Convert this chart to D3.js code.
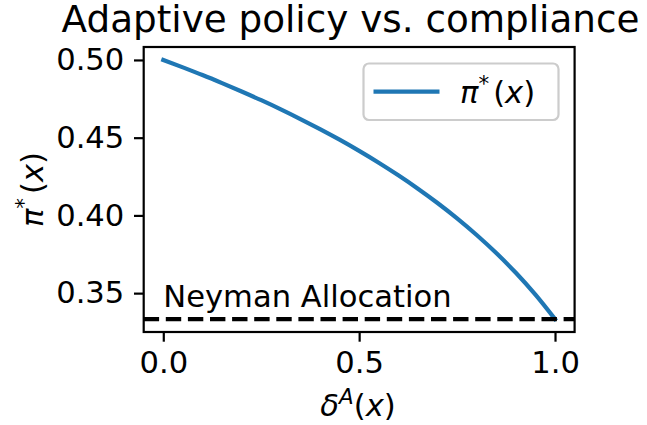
<!DOCTYPE html>
<html lang="en">
<head>
<meta charset="utf-8">
<title>Adaptive policy vs. compliance</title>
<script src="https://d3js.org/d3.v7.min.js"></script>
<style>
    body{margin:0;background:#fff;}
    svg text{font-family:"DejaVu Sans",sans-serif;fill:#000;}
    .axis path{display:none;}
    .axis line{stroke:#000;stroke-width:2.2px;}
    .axis text{font-size:30.6px;font-family:"DejaVu Sans",sans-serif;}
</style>
</head>
<body>
<script>
    // values
    const delta = [0, 0.05, 0.1, 0.15, 0.2, 0.25, 0.3, 0.35, 0.4, 0.45, 0.5,
                   0.55, 0.6, 0.65, 0.7, 0.75, 0.8, 0.85, 0.9, 0.95, 1.0];
    const piStar = [0.5000, 0.4952, 0.4903, 0.4851, 0.4797, 0.4741, 0.4682, 0.4620, 0.4555, 0.4487, 0.4415,
                    0.4339, 0.4258, 0.4172, 0.4080, 0.3981, 0.3874, 0.3758, 0.3631, 0.3490, 0.3333];
    const neyman = 0.3333;
    const xTicks = [0, 0.5, 1.0];
    const yTicks = [0.35, 0.40, 0.45, 0.50];

    const W = 647, H = 425;
    const axL = 143.7, axR = 574.6, axT = 47, axB = 332;
    const fs = 30.6;

    const svg = d3.select("body").append("svg")
        .attr("width", W).attr("height", H);

    const x = d3.scaleLinear().domain([-0.05, 1.05]).range([axL, axR]);
    const y = d3.scaleLinear().domain([0.325, 0.50833]).range([axB, axT]);

    // curve
    const line = d3.line()
        .x((d, i) => x(delta[i]))
        .y(d => y(d))
        .curve(d3.curveMonotoneX);
    svg.append("path")
        .datum(piStar)
        .attr("d", line)
        .attr("fill", "none")
        .attr("stroke", "#1f77b4")
        .attr("stroke-width", 4.2)
        .attr("stroke-linecap", "square");

    // neyman reference line
    svg.append("line")
        .attr("x1", axL).attr("x2", axR)
        .attr("y1", y(neyman)).attr("y2", y(neyman))
        .attr("stroke", "#000")
        .attr("stroke-width", 4.2)
        .attr("stroke-dasharray", "15.4,6.7");

    svg.append("text")
        .attr("x", x(0)).attr("y", y(0.341))
        .attr("font-size", fs)
        .text("Neyman Allocation");

    // spines
    svg.append("rect")
        .attr("x", axL).attr("y", axT)
        .attr("width", axR - axL).attr("height", axB - axT)
        .attr("fill", "none")
        .attr("stroke", "#000")
        .attr("stroke-width", 2.2);

    // axes
    svg.append("g")
        .attr("class", "axis")
        .attr("transform", "translate(0," + axB + ")")
        .call(d3.axisBottom(x).tickValues(xTicks).tickFormat(d3.format(".1f"))
            .tickSize(9.7).tickPadding(9.7));
    svg.append("g")
        .attr("class", "axis")
        .attr("transform", "translate(" + axL + ",0)")
        .call(d3.axisLeft(y).tickValues(yTicks).tickFormat(d3.format(".2f"))
            .tickSize(9.7).tickPadding(9.7));

    // title
    svg.append("text")
        .attr("x", 350.5).attr("y", 32)
        .attr("text-anchor", "middle")
        .attr("font-size", 37.3)
        .text("Adaptive policy vs. compliance");

    // x label: delta^A(x)
    const xl = svg.append("text")
        .attr("x", 358).attr("y", 416)
        .attr("text-anchor", "middle")
        .attr("font-size", fs);
    xl.append("tspan").attr("font-style", "italic").text("δ");
    xl.append("tspan").attr("font-style", "italic").attr("font-size", fs * 0.7).attr("dy", -12).text("A");
    xl.append("tspan").attr("dy", 12).text("(");
    xl.append("tspan").attr("font-style", "italic").text("x");
    xl.append("tspan").text(")");

    // y label: pi*(x)
    function piLabel(t) {
        t.append("tspan").attr("font-style", "italic").text("π");
        t.append("tspan").attr("font-size", fs * 0.7).attr("dy", -12).text("*");
        t.append("tspan").attr("dy", 12).attr("dx", 4).text("(");
        t.append("tspan").attr("font-style", "italic").text("x");
        t.append("tspan").text(")");
    }
    const yl = svg.append("text")
        .attr("transform", "translate(43," + ((axT + axB) / 2) + ") rotate(-90)")
        .attr("text-anchor", "middle")
        .attr("font-size", fs);
    piLabel(yl);

    // legend
    const lg = svg.append("g");
    lg.append("rect")
        .attr("x", 363.5).attr("y", 63.5)
        .attr("width", 195).attr("height", 56.5)
        .attr("rx", 5.5)
        .attr("fill", "#fff")
        .attr("fill-opacity", 0.8)
        .attr("stroke", "#cccccc")
        .attr("stroke-width", 2.2);
    lg.append("line")
        .attr("x1", 373.5).attr("x2", 439.5)
        .attr("y1", 91.7).attr("y2", 91.7)
        .attr("stroke", "#1f77b4")
        .attr("stroke-width", 4.2);
    const lt = lg.append("text")
        .attr("x", 460).attr("y", 103)
        .attr("font-size", fs);
    piLabel(lt);
</script>
</body>
</html>
